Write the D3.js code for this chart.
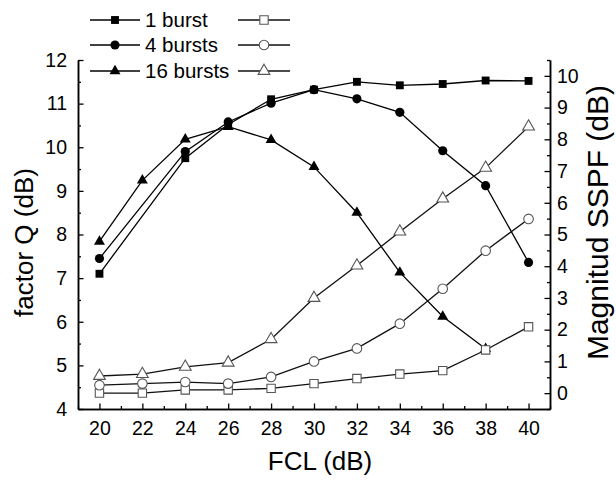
<!DOCTYPE html>
<html>
<head>
<meta charset="utf-8">
<script src="https://cdn.jsdelivr.net/npm/d3@7"></script>
<style>
  body { margin: 0; background: #fff; }
  svg { display: block; font-family: "Liberation Sans", Arial, sans-serif; }
</style>
</head>
<body>
<svg id="chart" width="616" height="480"></svg>
<script>
// factor Q (left axis), filled markers
const q1x = [20, 24, 26, 28, 30, 32, 34, 36, 38, 40];
const q1y = [7.1, 9.75, 10.52, 11.1, 11.32, 11.5, 11.42, 11.45, 11.53, 11.52];
const q4x = [20, 24, 26, 28, 30, 32, 34, 36, 38, 40];
const q4y = [7.45, 9.9, 10.58, 11.01, 11.32, 11.11, 10.8, 9.92, 9.12, 7.36];
const q16x = [20, 22, 24, 26, 28, 30, 32, 34, 36, 38];
const q16y = [7.84, 9.24, 10.18, 10.47, 10.17, 9.55, 8.5, 7.13, 6.12, 5.38];

// Magnitud SSPF (right axis), open markers
const sx = [20, 22, 24, 26, 28, 30, 32, 34, 36, 38, 40];
const s1y = [0.0, 0.0, 0.1, 0.1, 0.15, 0.3, 0.46, 0.6, 0.71, 1.36, 2.09];
const s4y = [0.25, 0.3, 0.35, 0.3, 0.51, 1.0, 1.41, 2.19, 3.29, 4.49, 5.49];
const s16y = [0.54, 0.6, 0.83, 0.96, 1.7, 3.0, 4.02, 5.09, 6.13, 7.1, 8.4];

const legendLabels = ['1 burst', '4 bursts', '16 bursts'];
const xTicks = [20, 22, 24, 26, 28, 30, 32, 34, 36, 38, 40];

const svg = d3.select('#chart');
const L = 78, R = 550, T = 60, B = 409;

const x = d3.scaleLinear().domain([19, 41]).range([L, R]);
const yL = d3.scaleLinear().domain([4, 12]).range([B, T]);
const yR = d3.scaleLinear().domain([-0.5, 10.5]).range([B, T]);

const FS = 19.5;

// axes
function styleAxis(g) {
  g.select('.domain').attr('stroke', '#000').attr('stroke-width', 1.5);
  g.selectAll('.tick line').attr('stroke', '#000').attr('stroke-width', 1.3);
  g.selectAll('text').attr('fill', '#000').attr('font-size', FS).attr('font-family', 'inherit');
}

const xMinor = d3.range(19, 42, 2);
svg.append('g').attr('transform', `translate(0,${B})`)
  .call(d3.axisBottom(x).tickValues(xMinor).tickSize(-3).tickFormat('').tickSizeOuter(0))
  .call(styleAxis);
svg.append('g').attr('transform', `translate(0,${B})`)
  .call(d3.axisBottom(x).tickValues(xTicks).tickSize(-5.5).tickPadding(12).tickSizeOuter(0))
  .call(styleAxis);

svg.append('g').attr('transform', `translate(${L},0)`)
  .call(d3.axisLeft(yL).tickValues(d3.range(4.5, 12, 1)).tickSize(-3).tickFormat('').tickSizeOuter(0))
  .call(styleAxis);
svg.append('g').attr('transform', `translate(${L},0)`)
  .call(d3.axisLeft(yL).tickValues(d3.range(4, 13, 1)).tickSize(-5.5).tickPadding(11).tickSizeOuter(0))
  .call(styleAxis);

svg.append('g').attr('transform', `translate(${R},0)`)
  .call(d3.axisRight(yR).tickValues(d3.range(-0.5, 11, 1)).tickSize(-3).tickFormat('').tickSizeOuter(0))
  .call(styleAxis);
svg.append('g').attr('transform', `translate(${R},0)`)
  .call(d3.axisRight(yR).tickValues(d3.range(0, 11, 1)).tickSize(-5.5).tickPadding(7).tickSizeOuter(0))
  .call(styleAxis);

// axis titles
svg.append('text')
  .attr('transform', `translate(33,${(T + B) / 2 + 8}) rotate(-90)`)
  .attr('text-anchor', 'middle').attr('font-size', 26).attr('fill', '#000')
  .text('factor Q (dB)');
svg.append('text')
  .attr('transform', `translate(608,${(T + B) / 2 - 12}) rotate(-90)`)
  .attr('text-anchor', 'middle').attr('font-size', 30).attr('fill', '#000')
  .text('Magnitud SSPF (dB)');
svg.append('text')
  .attr('x', (L + R) / 2 + 6).attr('y', 470)
  .attr('text-anchor', 'middle').attr('font-size', 26).attr('fill', '#000')
  .text('FCL (dB)');

// series
const filled = [
  { xs: q1x, ys: q1y, sym: d3.symbolSquare, size: 62 },
  { xs: q4x, ys: q4y, sym: d3.symbolCircle, size: 66 },
  { xs: q16x, ys: q16y, sym: d3.symbolTriangle, size: 52 },
];
const open = [
  { xs: sx, ys: s1y, sym: d3.symbolSquare, size: 70 },
  { xs: sx, ys: s4y, sym: d3.symbolCircle, size: 72 },
  { xs: sx, ys: s16y, sym: d3.symbolTriangle, size: 60 },
];

function drawSeries(s, yScale, isOpen) {
  const pts = s.xs.map((v, i) => [x(v), yScale(s.ys[i])]);
  svg.append('path')
    .attr('d', d3.line()(pts))
    .attr('fill', 'none')
    .attr('stroke', isOpen ? '#111' : '#000')
    .attr('stroke-width', 1.3);
  svg.append('g').selectAll('path')
    .data(pts)
    .join('path')
    .attr('transform', d => `translate(${d[0]},${d[1]})`)
    .attr('d', d3.symbol(s.sym, s.size))
    .attr('fill', isOpen ? '#fff' : '#000')
    .attr('stroke', isOpen ? '#555' : 'none')
    .attr('stroke-width', 1.1);
}

filled.forEach(s => drawSeries(s, yL, false));
open.forEach(s => drawSeries(s, yR, true));

// legend
const legRows = [20, 45, 71];
legRows.forEach((ly, i) => {
  const g = svg.append('g');
  g.append('line').attr('x1', 90).attr('x2', 140).attr('y1', ly).attr('y2', ly)
    .attr('stroke', '#000').attr('stroke-width', 1.3);
  g.append('path').attr('transform', `translate(115,${ly})`)
    .attr('d', d3.symbol(filled[i].sym, filled[i].size)).attr('fill', '#000');
  g.append('text').attr('x', 145).attr('y', ly + 7)
    .attr('font-size', 20.5).attr('fill', '#000').text(legendLabels[i]);
  g.append('line').attr('x1', 238).attr('x2', 290).attr('y1', ly).attr('y2', ly)
    .attr('stroke', '#111').attr('stroke-width', 1.3);
  g.append('path').attr('transform', `translate(264,${ly})`)
    .attr('d', d3.symbol(open[i].sym, open[i].size))
    .attr('fill', '#fff').attr('stroke', '#555').attr('stroke-width', 1.1);
});
</script>
</body>
</html>
